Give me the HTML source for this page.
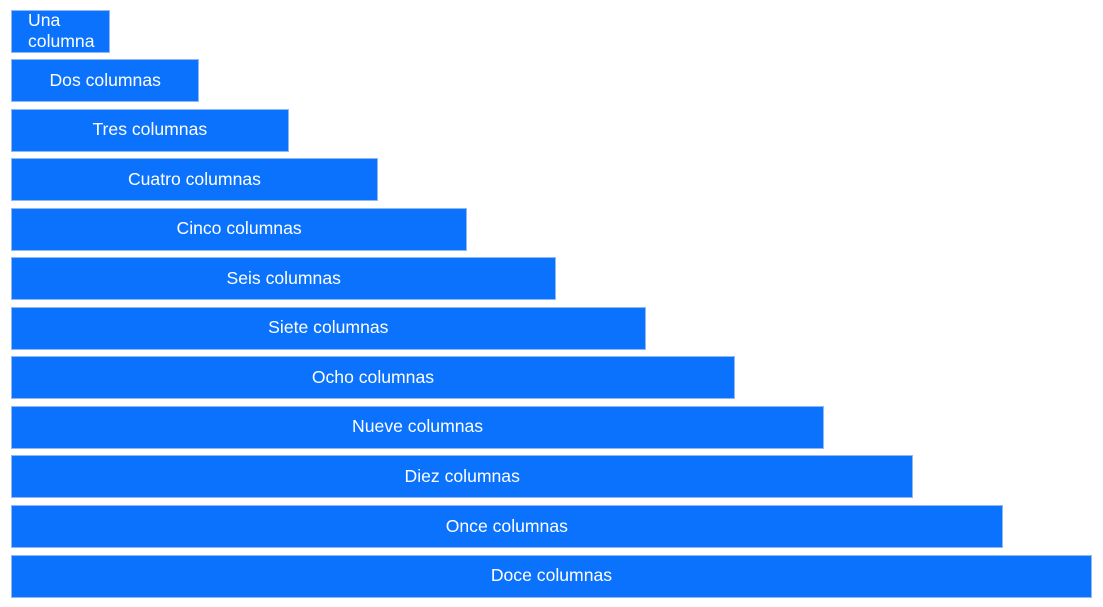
<!DOCTYPE html>
<html><head><meta charset="utf-8"><style>
html,body{margin:0;background:#fff;width:1103px;height:607px;overflow:hidden}
.bar{position:absolute;left:11px;height:43px;box-sizing:border-box;background:#0a72fd;border:1px solid #8fb8f5;color:#fff;font:17.6px "Liberation Sans",sans-serif;display:flex;align-items:center;justify-content:center;text-align:center;padding:0 16px 1px;line-height:21px}
</style></head><body>
<div id="chart"></div>
<script>
const labels=["Una columna","Dos columnas","Tres columnas","Cuatro columnas","Cinco columnas","Seis columnas","Siete columnas","Ocho columnas","Nueve columnas","Diez columnas","Once columnas","Doce columnas"];
const spans=[1,2,3,4,5,6,7,8,9,10,11,12];
const c=document.getElementById('chart');
spans.forEach((s,i)=>{
  const d=document.createElement('div');
  d.className='bar';
  
  
  d.style.top=(9.5+i*49.55)+'px';
  d.style.width=(9.9+s*89.25)+'px';
  if(s===1){d.style.justifyContent='flex-start';d.style.textAlign='left';}
  d.textContent=labels[i];
  c.appendChild(d);
});
</script>
</body></html>
